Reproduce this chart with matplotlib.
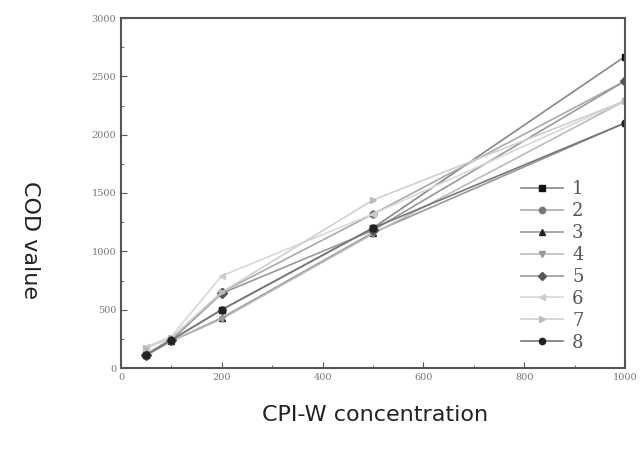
import matplotlib
matplotlib.use("Agg")
import matplotlib.pyplot as plt
from matplotlib.ticker import MultipleLocator

x = [50, 100, 200, 500, 1000]
labels = ["1", "2", "3", "4", "5", "6", "7", "8"]
s1 = [110, 240, 500, 1200, 2670]
s2 = [120, 250, 650, 1320, 2460]
s3 = [110, 230, 430, 1160, 2100]
s4 = [120, 230, 420, 1150, 2290]
s5 = [110, 240, 640, 1180, 2460]
s6 = [180, 270, 790, 1320, 2290]
s7 = [170, 260, 650, 1440, 2290]
s8 = [110, 240, 500, 1200, 2100]
series = [s1, s2, s3, s4, s5, s6, s7, s8]

markers = ["s", "o", "^", "v", "D", "<", ">", "o"]
mcolors = ["#111111", "#777777", "#222222", "#999999", "#555555", "#cccccc", "#bbbbbb", "#222222"]
lcolors = ["#888888", "#aaaaaa", "#999999", "#bbbbbb", "#999999", "#d8d8d8", "#cfcfcf", "#777777"]

fig = plt.figure(figsize=(6.41, 4.59), dpi=100)
ax = fig.add_axes([121/641, 1-368/459, (625-121)/641, (368-18)/459])

for s, m, mc, lc, lab in zip(series, markers, mcolors, lcolors, labels):
    ax.plot(x, s, color=lc, lw=1.2, marker=m, markersize=5,
            markerfacecolor=mc, markeredgecolor=mc, label=lab)

ax.set_xlim(0, 1000)
ax.set_ylim(0, 3000)
ax.xaxis.set_major_locator(MultipleLocator(200))
ax.xaxis.set_minor_locator(MultipleLocator(100))
ax.yaxis.set_major_locator(MultipleLocator(500))
ax.yaxis.set_minor_locator(MultipleLocator(250))
ax.tick_params(which="both", direction="in", colors="#555555", labelsize=7,
               labelcolor="#777777")
ax.tick_params(which="major", length=4)
ax.tick_params(which="minor", length=2)
for lab in ax.get_xticklabels() + ax.get_yticklabels():
    lab.set_family("DejaVu Serif")
for sp in ax.spines.values():
    sp.set_color("#555555")
    sp.set_linewidth(1.5)

leg = ax.legend(loc="lower right", bbox_to_anchor=(0.95, 0.0), frameon=False,
                prop={"family": "DejaVu Serif", "size": 13},
                labelspacing=0.22, handlelength=2.3, handletextpad=0.5,
                markerscale=0.9)
for t in leg.get_texts():
    t.set_color("#555555")

fig.text(375/641, 1-415/459, "CPI-W concentration", ha="center", va="center", fontsize=16,
         color="#222222")
fig.text(30/641, 1-240/459, "COD value", ha="center", va="center", fontsize=16,
         rotation=-90, color="#222222")

fig.savefig("out.png", dpi=100)
